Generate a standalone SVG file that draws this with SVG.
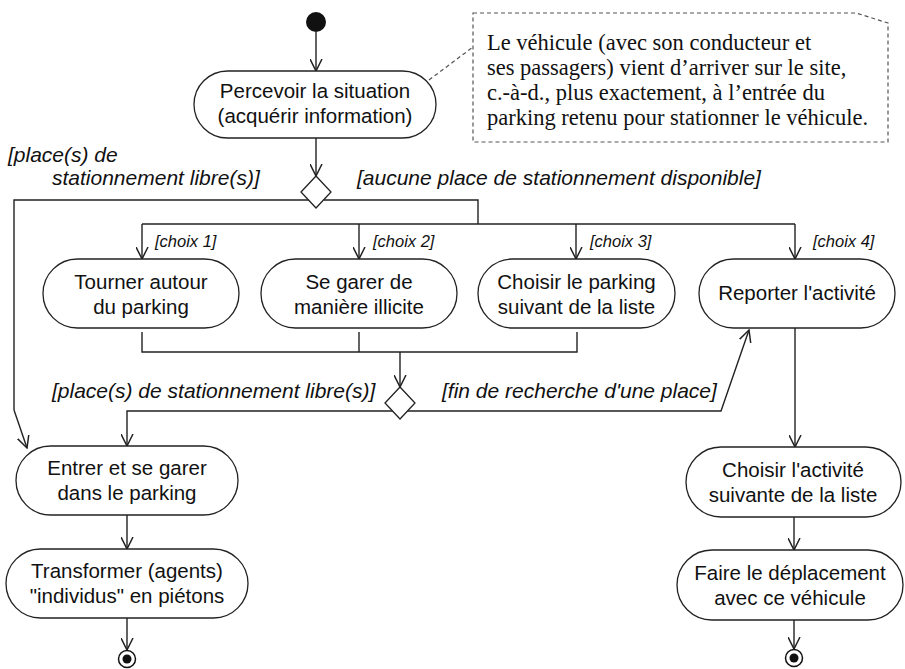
<svg xmlns="http://www.w3.org/2000/svg" width="905" height="669" viewBox="0 0 905 669">
<defs>
<style>
.box{fill:#fff;stroke:#222;stroke-width:1.3}
.t{font-family:"Liberation Sans",Arial,sans-serif;font-size:20.5px;fill:#111;text-anchor:middle}
.lbl{font-family:"Liberation Sans",Arial,sans-serif;font-size:21px;font-style:italic;fill:#111}
.ch{font-family:"Liberation Sans",Arial,sans-serif;font-size:16.5px;font-style:italic;fill:#111}
.note{font-family:"Liberation Serif","Times New Roman",serif;font-size:22.5px;fill:#111}
.ln{fill:none;stroke:#222;stroke-width:1.4}
.arr{fill:none;stroke:#222;stroke-width:1.4;marker-end:url(#ah)}
.dash{fill:none;stroke:#555;stroke-width:1.2;stroke-dasharray:4,3}
</style>
<marker id="ah" viewBox="0 0 13 13" refX="12" refY="6.5" markerWidth="13" markerHeight="13" markerUnits="userSpaceOnUse" orient="auto">
<path d="M0,0.5 L12,6.5 L0,12.5" fill="none" stroke="#222" stroke-width="1.5"/>
</marker>
</defs>
<rect width="905" height="669" fill="#fff"/>

<g id="connectors">
<line class="arr" x1="316" y1="32" x2="316" y2="71"/>
<line class="arr" x1="316" y1="138" x2="316" y2="176"/>
<polyline class="ln" points="309,200 14,200 14,410"/>
<polyline class="arr" points="14,410 27,448"/>
<polyline class="ln" points="324,200 478,200 478,224"/>
<line class="ln" x1="142" y1="224" x2="795" y2="224"/>
<line class="arr" x1="142" y1="224" x2="142" y2="259"/>
<line class="arr" x1="359" y1="224" x2="359" y2="259"/>
<line class="arr" x1="576" y1="224" x2="576" y2="259"/>
<line class="arr" x1="795" y1="224" x2="795" y2="259"/>
<polyline class="ln" points="142,332 142,352 577,352 577,332"/>
<line class="ln" x1="359" y1="332" x2="359" y2="352"/>
<line class="arr" x1="400" y1="352" x2="400" y2="387"/>
<polyline class="arr" points="393,411 127,411 127,446"/>
<polyline class="arr" points="407,411 721,411 749,330"/>
<line class="arr" x1="795" y1="328" x2="795" y2="447"/>
<line class="arr" x1="127" y1="515" x2="127" y2="549"/>
<line class="arr" x1="127" y1="618" x2="127" y2="650"/>
<line class="arr" x1="794" y1="517" x2="794" y2="550"/>
<line class="arr" x1="794" y1="620" x2="794" y2="649"/>
<line class="dash" x1="429" y1="80" x2="473" y2="47"/>
</g>

<g id="start"><circle cx="316" cy="22" r="10" fill="#111"/></g>

<g id="note">
<path class="dash" d="M473,13 L856,13 L888,23 L888,142 L473,142 Z" fill="#fff"/>
<text class="note" x="487" y="50">Le véhicule (avec son conducteur et</text>
<text class="note" x="487" y="75">ses passagers) vient d’arriver sur le site,</text>
<text class="note" x="487" y="100">c.-à-d., plus exactement, à l’entrée du</text>
<text class="note" x="487" y="125">parking retenu pour stationner le véhicule.</text>
</g>

<g id="percevoir">
<rect class="box" x="194" y="71" width="242" height="67" rx="33.5"/>
<text class="t" x="315" y="98">Percevoir la situation</text>
<text class="t" x="315" y="123">(acquérir information)</text>
</g>

<g id="decision1"><path class="box" d="M316,176 L331,192 L316,208 L301,192 Z"/></g>

<g id="labels">
<text class="lbl" x="8" y="162">[place(s) de</text>
<text class="lbl" x="52" y="185">stationnement libre(s)]</text>
<text class="lbl" x="357" y="185">[aucune place de stationnement disponible]</text>
<text class="ch" x="155" y="247">[choix 1]</text>
<text class="ch" x="373" y="247">[choix 2]</text>
<text class="ch" x="590" y="247">[choix 3]</text>
<text class="ch" x="813" y="247">[choix 4]</text>
<text class="lbl" x="52" y="398">[place(s) de stationnement libre(s)]</text>
<text class="lbl" x="442" y="398">[fin de recherche d'une place]</text>
</g>

<g id="tourner">
<rect class="box" x="43" y="259" width="196" height="69" rx="34.5"/>
<text class="t" x="141" y="289">Tourner autour</text>
<text class="t" x="141" y="314">du parking</text>
</g>

<g id="segarer">
<rect class="box" x="261" y="259" width="196" height="69" rx="34.5"/>
<text class="t" x="359" y="289">Se garer de</text>
<text class="t" x="359" y="314">manière illicite</text>
</g>

<g id="choisirparking">
<rect class="box" x="478" y="259" width="197" height="69" rx="34.5"/>
<text class="t" x="576.5" y="289">Choisir le parking</text>
<text class="t" x="576.5" y="314">suivant de la liste</text>
</g>

<g id="reporter">
<rect class="box" x="699" y="259" width="196" height="69" rx="34.5"/>
<text class="t" x="797" y="300">Reporter l'activité</text>
</g>

<g id="decision2"><path class="box" d="M400,387 L415,403 L400,419 L385,403 Z"/></g>

<g id="entrer">
<rect class="box" x="16" y="446" width="222" height="69" rx="34.5"/>
<text class="t" x="127" y="475">Entrer et se garer</text>
<text class="t" x="127" y="500">dans le parking</text>
</g>

<g id="transformer">
<rect class="box" x="6" y="549" width="242" height="69" rx="34.5"/>
<text class="t" x="127" y="578">Transformer (agents)</text>
<text class="t" x="127" y="603">"individus" en piétons</text>
</g>

<g id="choisiractivite">
<rect class="box" x="686" y="447" width="215" height="70" rx="35"/>
<text class="t" x="793" y="477">Choisir l'activité</text>
<text class="t" x="793" y="502">suivante de la liste</text>
</g>

<g id="faire">
<rect class="box" x="677" y="550" width="226" height="70" rx="35"/>
<text class="t" x="790" y="580">Faire le déplacement</text>
<text class="t" x="790" y="605">avec ce véhicule</text>
</g>

<g id="end1">
<circle cx="127" cy="659" r="8.5" fill="#fff" stroke="#111" stroke-width="1.5"/>
<circle cx="127" cy="659" r="4.5" fill="#111"/>
</g>
<g id="end2">
<circle cx="794" cy="658" r="8.5" fill="#fff" stroke="#111" stroke-width="1.5"/>
<circle cx="794" cy="658" r="4.5" fill="#111"/>
</g>
</svg>
